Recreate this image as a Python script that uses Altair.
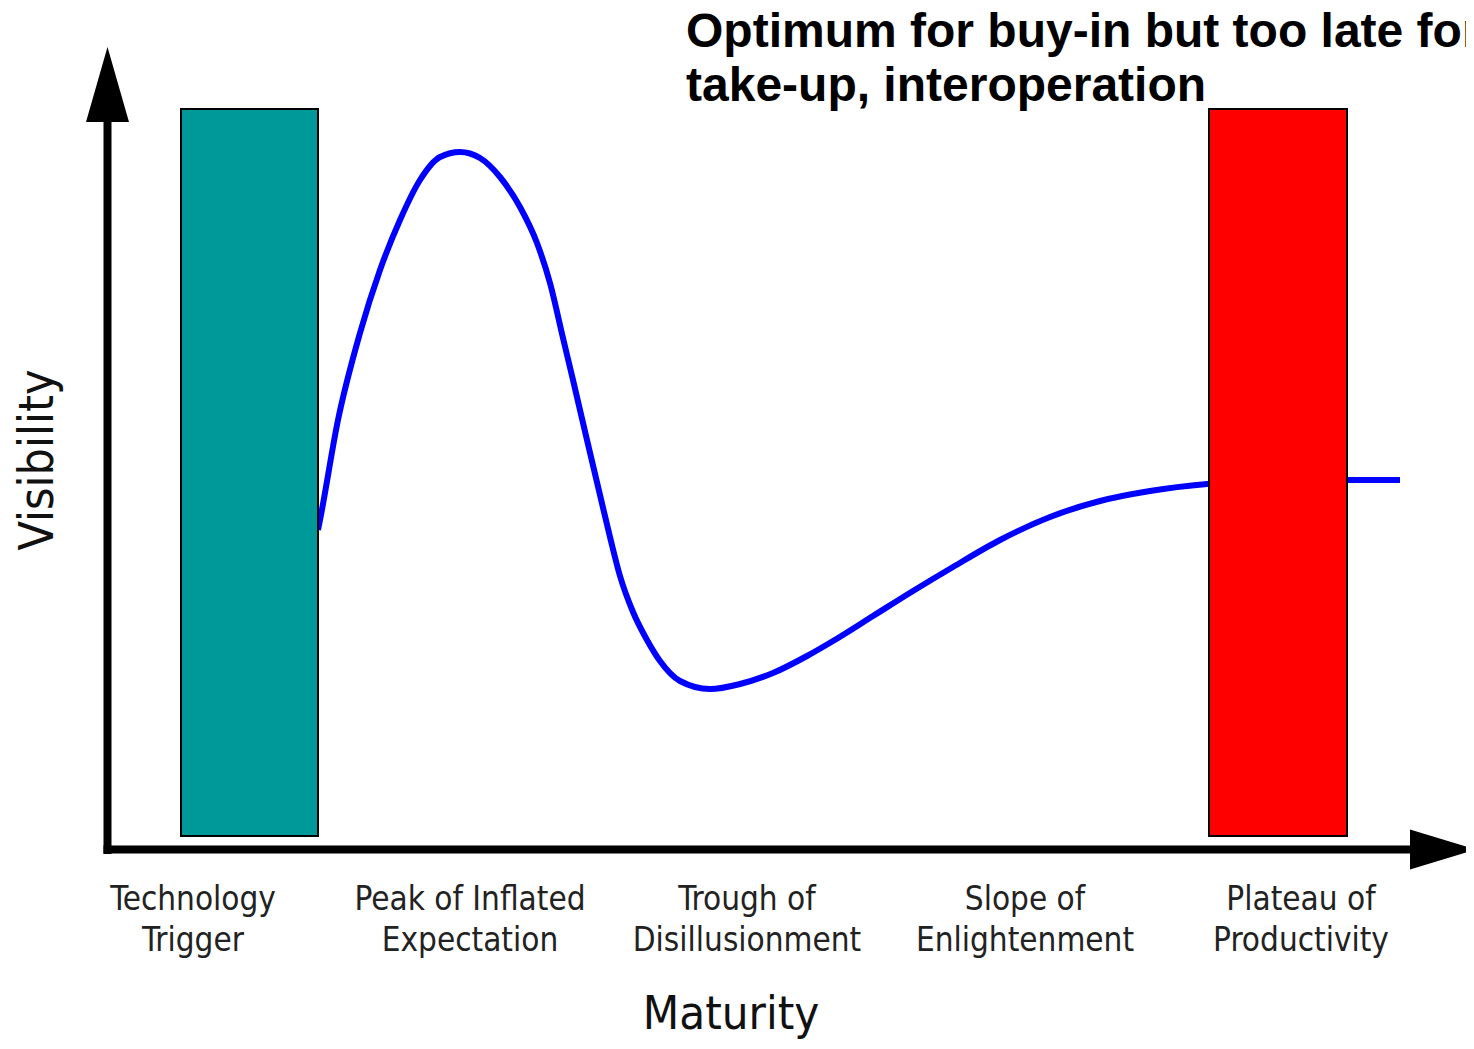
import altair as alt
import pandas as pd

# Hype-cycle curve: maturity (horizontal, 0 = axis origin) and visibility (vertical, 0 = axis)
maturity = [213, 215, 233, 255, 275, 295, 315, 335, 355, 375, 395, 415, 432, 445, 458, 468,
            482, 495, 505, 515, 528, 542, 555, 575, 605, 635, 668, 702, 728, 768, 808, 848,
            895, 945, 995, 1045, 1102, 1155, 1195, 1241, 1295]
visibility = [320, 330, 430, 517, 580, 630, 670, 693, 698, 692, 673, 643, 607, 567, 512, 470,
              410, 355, 313, 274, 238, 210, 189, 169, 161, 166, 177, 194, 209, 234, 259, 283,
              310, 333, 349, 359, 366, 369, 369.5, 370, 370]

# Highlighted phases (bars)
bar_left = [76, 1104]
bar_right = [213, 1242]
bar_bottom = [14, 14]
bar_top = [741, 741]
bar_color = ["#009999", "#FF0000"]

# Phase labels along the maturity axis
phase_names = ["Technology\nTrigger", "Peak of Inflated\nExpectation", "Trough of\nDisillusionment",
               "Slope of\nEnlightenment", "Plateau of\nProductivity"]
phase_pos = [88, 365, 642, 920, 1196]

title_lines = ["Optimum for buy-in but too late for", "take-up, interoperation"]
title_v = [803, 749]

X = alt.Scale(domain=[-97, 1361], nice=False, zero=False)
Y = alt.Scale(domain=[-191, 842], nice=False, zero=False)

curve_df = pd.DataFrame({"m": maturity, "v": visibility})
bars_df = pd.DataFrame({"x1": bar_left, "x2": bar_right, "y1": bar_bottom, "y2": bar_top, "c": bar_color})
axes_df = pd.DataFrame({"x1": [-1.5, 2.5], "x2": [1310, 2.5], "y1": [0.5, -4], "y2": [0.5, 728]})
phase_df = pd.DataFrame({"name": phase_names, "m": phase_pos, "v": [-60] * 5})
title_df = pd.DataFrame({"t": title_lines, "m": [581, 581], "v": title_v})

line = alt.Chart(curve_df).mark_line(color="#0000FF", strokeWidth=6, interpolate="monotone").encode(
    x=alt.X("m:Q", scale=X, axis=None),
    y=alt.Y("v:Q", scale=Y, axis=None),
)

bars = alt.Chart(bars_df).mark_rect(stroke="black", strokeWidth=2).encode(
    x=alt.X("x1:Q", scale=X, axis=None), x2="x2:Q",
    y=alt.Y("y1:Q", scale=Y, axis=None), y2="y2:Q",
    color=alt.Color("c:N", scale=None),
)

axes = alt.Chart(axes_df).mark_rule(color="black", strokeWidth=8).encode(
    x=alt.X("x1:Q", scale=X, axis=None), x2="x2:Q",
    y=alt.Y("y1:Q", scale=Y, axis=None), y2="y2:Q",
)

up_arrow = alt.Chart(pd.DataFrame({"m": [2.5], "v": [765.5]})).mark_point(
    shape="M -0.573 1 L 0.573 1 L 0 -1 Z", size=5625, filled=True, color="black", opacity=1, strokeWidth=0
).encode(x=alt.X("m:Q", scale=X, axis=None), y=alt.Y("v:Q", scale=Y, axis=None))

right_arrow = alt.Chart(pd.DataFrame({"m": [1338], "v": [0.5]})).mark_point(
    shape="M -1 -0.606 L 1 0 L -1 0.606 Z", size=4356, filled=True, color="black", opacity=1, strokeWidth=0
).encode(x=alt.X("m:Q", scale=X, axis=None), y=alt.Y("v:Q", scale=Y, axis=None))

label_font = "DejaVu Sans Condensed, DejaVu Sans, sans-serif"

phases = alt.Chart(phase_df).mark_text(
    font=label_font, fontSize=33, color="#222222", align="center", baseline="alphabetic",
    lineBreak="\n", lineHeight=41
).encode(x=alt.X("m:Q", scale=X, axis=None), y=alt.Y("v:Q", scale=Y, axis=None), text="name:N")

maturity_title = alt.Chart(pd.DataFrame({"t": ["Maturity"], "m": [626], "v": [-179]})).mark_text(
    font=label_font, fontSize=47, color="#111111", align="center", baseline="alphabetic"
).encode(x=alt.X("m:Q", scale=X, axis=None), y=alt.Y("v:Q", scale=Y, axis=None), text="t:N")

visibility_title = alt.Chart(pd.DataFrame({"t": ["Visibility"], "m": [-52], "v": [390]})).mark_text(
    font=label_font, fontSize=48, color="#111111", align="center", baseline="alphabetic", angle=270
).encode(x=alt.X("m:Q", scale=X, axis=None), y=alt.Y("v:Q", scale=Y, axis=None), text="t:N")

title = alt.Chart(title_df).mark_text(
    font="Liberation Sans, Arial, sans-serif", fontSize=48, fontWeight="bold", color="black",
    align="left", baseline="alphabetic"
).encode(x=alt.X("m:Q", scale=X, axis=None), y=alt.Y("v:Q", scale=Y, axis=None), text="t:N")

chart = alt.layer(
    line, bars, axes, up_arrow, right_arrow, phases, maturity_title, visibility_title, title
).properties(
    width=1458, height=1033, autosize=alt.AutoSizeParams(type="none"), padding=0, background="white"
).configure_view(stroke=None)

chart.save("out.html", embed_options={"renderer": "svg", "actions": False})
